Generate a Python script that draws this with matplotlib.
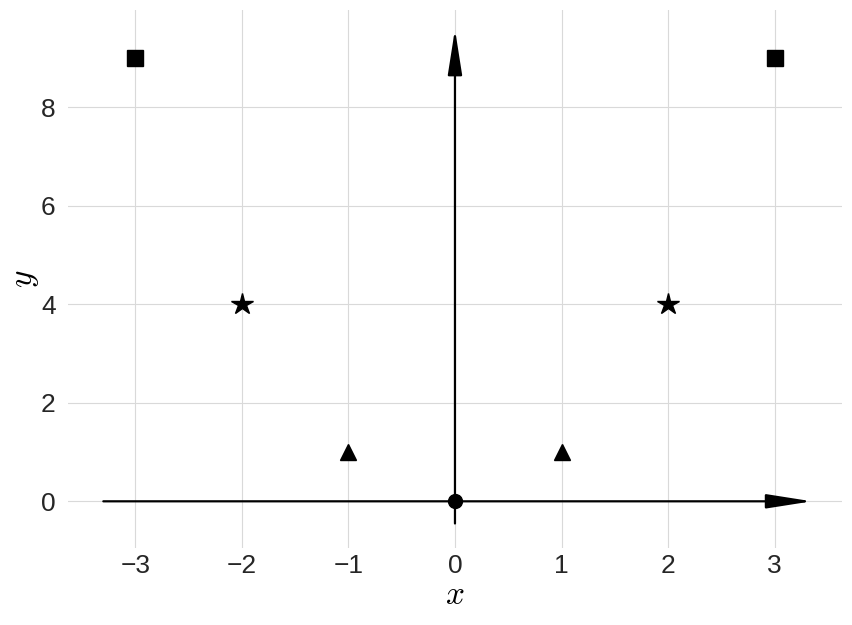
import matplotlib
matplotlib.use("Agg")
import matplotlib.pyplot as plt

xs = [-3, -2, -1, 0, 1, 2, 3]
ys = [9, 4, 1, 0, 1, 4, 9]
markers = ["s", "*", "^", "o", "^", "*", "s"]
msizes = [11, 16, 12, 10, 12, 16, 11]
xticks = [-3, -2, -1, 0, 1, 2, 3]
yticks = [0, 2, 4, 6, 8]
x_arrow = (-3.3, 3.35)
y_arrow = (-0.45, 9.58)
x_lim = (-3.63, 3.63)
y_lim = (-0.95, 9.97)

plt.rcParams["font.family"] = ["Liberation Sans", "DejaVu Sans"]
plt.rcParams["mathtext.fontset"] = "cm"

fig = plt.figure(figsize=(8.52, 6.25), dpi=100)
ax = fig.add_axes([0.08, 0.123, 0.908, 0.861])

for x, y, m, s in zip(xs, ys, markers, msizes):
    ax.plot([x], [y], marker=m, color="black", markersize=s, linestyle="none", zorder=5)

style = "-|>,head_length=1.4,head_width=0.22"
ax.annotate("", xy=(x_arrow[1], 0), xytext=(x_arrow[0], 0),
            arrowprops=dict(arrowstyle=style, color="black", lw=1.6,
                            shrinkA=0, shrinkB=0, mutation_scale=20),
            zorder=4)
ax.annotate("", xy=(0, y_arrow[1]), xytext=(0, y_arrow[0]),
            arrowprops=dict(arrowstyle=style, color="black", lw=1.6,
                            shrinkA=0, shrinkB=0, mutation_scale=20),
            zorder=4)

ax.set_xlim(*x_lim)
ax.set_ylim(*y_lim)
ax.set_xticks(xticks)
ax.set_yticks(yticks)
ax.set_xticklabels([f"{t}".replace("-", "\u2212") for t in xticks])
ax.set_yticklabels([str(t) for t in yticks])
ax.grid(True, color="#d9d9d9", linewidth=0.8)
ax.set_axisbelow(True)
for sp in ax.spines.values():
    sp.set_visible(False)
ax.tick_params(length=0, labelsize=19, colors="#262626")
ax.tick_params(axis="x", pad=4)
ax.tick_params(axis="y", pad=9)
ax.set_xlabel("$x$", fontsize=24, labelpad=2)
ax.set_ylabel("$y$", fontsize=24, labelpad=0)

fig.savefig("out.png", dpi=100)
